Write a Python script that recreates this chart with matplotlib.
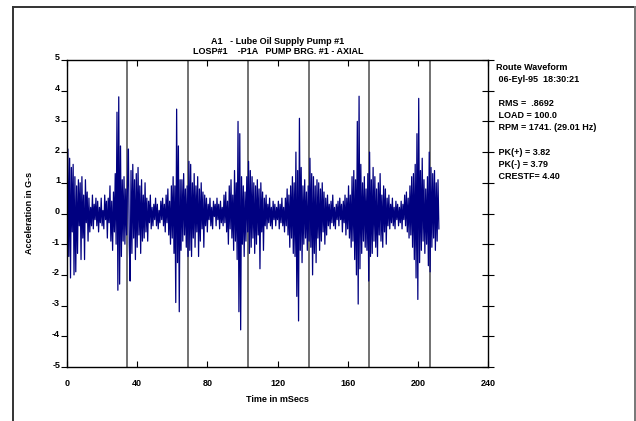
import numpy as np
import matplotlib
matplotlib.use('Agg')
from matplotlib import pyplot as plt
from matplotlib.lines import Line2D
from matplotlib.transforms import ScaledTranslation

# Section 1: the values (G-s, one every 0.5 ms)
dt_ms = 0.5
accel = [
    # 0 - 35 ms
    0.3, 2.1, -1.4, 1.8, -2.1, 1.5, -0.6, 1.6, -2.0, 1.2,
    -1.9, 0.9, -1.3, 1.1, -0.4, 1.0, -1.5, 1.2, -0.8, 0.6,
    -1.5, 1.1, -0.3, 0.7, -0.9, 0.5, -0.6, 0.2, -0.4, 0.6,
    -0.5, 0.3, -0.2, 0.5, -0.4, 0.4, -0.6, 0.2, -0.3, 0.5,
    -0.4, 0.1, -0.5, 0.6, -0.2, 0.4, -0.8, 0.5, -0.3, 0.9,
    -0.9, 0.4, -1.2, 0.7, -0.6, 1.3, -1.0, 3.3, -2.5, 3.8,
    -2.3, 2.2, -1.4, 1.1, -0.9, 1.2, -1.0, 0.8, -0.7, 1.0,
    # 35 - 70 ms
    2.1, -1.0, -2.2, 1.4, -1.3, 1.6, -0.8, 1.1, -1.5, 1.3,
    -1.1, 1.5, -0.7, 0.9, -1.3, 1.1, -0.9, 0.6, -0.8, 1.0,
    -0.6, 0.5, -0.9, 0.4, -0.3, 0.6, -0.5, 0.2, -0.4, 0.3,
    -0.2, 0.5, -0.4, 0.3, -0.5, 0.1, -0.3, 0.4, -0.2, 0.5,
    -0.4, 0.3, -0.6, 0.6, -0.3, 0.8, -0.7, 0.4, -1.0, 0.9,
    -0.8, 1.2, -1.3, 0.9, -2.9, 3.4, -1.6, 2.2, -3.2, 1.1,
    -1.2, 1.1, -0.9, 1.3, -0.7, 0.8, -1.1, 0.9, -1.4, 1.7,
    # 70 - 105 ms
    -1.2, 1.6, -1.4, 1.0, -0.8, 1.3, -1.1, 0.9, -0.6, 1.2,
    -1.4, 0.8, -0.9, 1.0, -0.5, 0.7, -1.1, 0.6, -0.4, 0.5,
    -0.6, 0.3, -0.2, 0.5, -0.4, 0.2, -0.5, 0.4, -0.1, 0.3,
    -0.4, 0.5, -0.2, 0.3, -0.5, 0.4, -0.3, 0.2, -0.4, 0.6,
    -0.3, 0.7, -0.6, 0.4, -1.0, 0.9, -0.5, 1.1, -0.8, 0.6,
    -1.2, 1.4, -0.9, 1.0, -1.5, 3.0, -3.2, 2.6, -3.79, 1.2,
    -1.0, 0.9, -1.4, 0.7, -0.9, 1.2, -0.6, 1.7, -1.3, 1.4,
    # 105 - 140 ms
    -1.1, 1.2, -0.8, 1.0, -1.3, 0.9, -1.0, 1.1, -0.7, 0.8,
    -1.8, 1.0, -0.6, 0.7, -1.2, 0.5, -0.4, 0.6, -0.5, 0.3,
    -0.3, 0.5, -0.4, 0.2, -0.5, 0.4, -0.2, 0.3, -0.4, 0.2,
    -0.2, 0.4, -0.5, 0.3, -0.3, 0.5, -0.4, 0.2, -0.6, 0.5,
    -0.4, 0.8, -0.7, 0.6, -1.1, 0.9, -0.8, 1.2, -1.3, 1.0,
    -1.4, 2.0, -2.7, 1.4, -3.5, 3.1, -1.2, 1.5, -1.6, 0.9,
    -1.0, 1.1, -0.8, 0.7, -1.2, 0.9, -0.9, 1.8, -1.1, 1.3,
    # 140 - 175 ms
    -2.0, 1.2, -1.3, 0.9, -1.6, 1.1, -0.8, 1.0, -1.2, 0.8,
    -0.9, 1.0, -0.6, 0.7, -1.0, 0.5, -0.7, 0.6, -0.4, 0.3,
    -0.5, 0.4, -0.3, 0.6, -0.4, 0.2, -0.5, 0.3, -0.2, 0.4,
    -0.4, 0.5, -0.2, 0.3, -0.6, 0.4, -0.3, 0.6, -0.7, 0.5,
    -0.5, 0.9, -0.8, 0.6, -1.1, 1.2, -0.9, 1.4, -1.5, 1.1,
    -2.0, 3.0, -2.95, 3.82, -1.8, 1.6, -1.3, 1.0, -0.9, 1.2,
    -1.1, 0.8, -1.2, 1.3, -2.2, 2.0, -1.4, 1.1, -1.3, 1.5,
    # 175 - 212 ms
    -0.9, 1.2, -1.1, 0.8, -1.4, 1.0, -0.7, 1.3, -0.9, 0.6,
    -1.1, 0.9, -0.6, 0.8, -1.0, 0.5, -0.4, 0.6, -0.5, 0.3,
    -0.3, 0.5, -0.4, 0.2, -0.5, 0.4, -0.2, 0.3, -0.4, 0.2,
    -0.3, 0.4, -0.5, 0.3, -0.2, 0.6, -0.4, 0.7, -0.6, 0.5,
    -0.8, 0.9, -0.7, 1.2, -1.1, 1.3, -1.5, 1.6, -2.1, 2.6,
    -2.8, 3.75, -1.6, 1.4, -1.2, 1.8, -0.9, 1.1, -1.3, 0.8,
    -1.0, 1.2, -1.7, 2.0, -1.9, 1.5, -1.1, 1.3, -0.8, 1.4,
    -1.2, 1.0, -0.9, 1.1, -0.5,
]
time_ms = np.arange(len(accel)) * dt_ms

# one line per shaft turn (29.01 Hz -> 34.47 ms)
rev_lines = [34.47, 68.94, 103.41, 137.88, 172.35, 206.82]

x_ticks = [0, 40, 80, 120, 160, 200, 240]
y_ticks = [-5, -4, -3, -2, -1, 0, 1, 2, 3, 4, 5]

title_lines = ['A1   - Lube Oil Supply Pump #1', 'LOSP#1    -P1A   PUMP BRG. #1 - AXIAL']
info_lines = ['Route Waveform', ' 06-Eyl-95  18:30:21', '', ' RMS =  .8692', ' LOAD = 100.0',
              ' RPM = 1741. (29.01 Hz)', '', ' PK(+) = 3.82', ' PK(-) = 3.79', ' CRESTF= 4.40']

# Section 2: the figure
plt.rcParams['font.family'] = ['Liberation Sans', 'DejaVu Sans']
plt.rcParams['font.weight'] = 'bold'
plt.rcParams['axes.unicode_minus'] = False
fs = 6.5

fig = plt.figure(figsize=(6.36, 4.21), dpi=100)
ax = fig.add_axes([67 / 636, 1 - 367 / 421, 421 / 636, 307 / 421])

for xl in rev_lines:
    ax.axvline(xl, color='#4a4a4a', lw=1.1, zorder=1)
ax.plot(time_ms, accel, color='#000080', lw=0.9, zorder=2)

ax.set_xlim(0, 240)
ax.set_ylim(-5, 5)
ax.set_xticks(x_ticks)
ax.set_yticks(y_ticks)
ax.tick_params(axis='x', direction='in', length=4, top=True, pad=9, labelsize=fs)
ax.tick_params(axis='y', direction='out', length=4, pad=1, labelsize=fs)
ax.tick_params(axis='y', which='both', right=True)
for t in ax.yaxis.get_major_ticks():
    t.tick2line.set_markersize(8)
    t.tick2line.set_marker('_')
# y labels sit a little above their ticks in the original
for lab in ax.get_yticklabels():
    lab.set_transform(lab.get_transform() + ScaledTranslation(0, 3 / 100, fig.dpi_scale_trans))
for s in ax.spines.values():
    s.set_linewidth(1.0)

fig.text(30 / 636, 1 - 213 / 421, 'Acceleration in G-s', rotation=90,
         ha='center', va='center', fontsize=fs, fontweight='bold')
fig.text(277 / 636, 1 - 399 / 421, 'Time in mSecs', ha='center', va='center',
         fontsize=fs, fontweight='bold')
fig.text(278 / 636, 1 - 41 / 421, title_lines[0], ha='center', va='center', fontsize=fs, fontweight='bold')
fig.text(278 / 636, 1 - 52 / 421, title_lines[1], ha='center', va='center', fontsize=fs, fontweight='bold')

y0 = 67
for i, line in enumerate(info_lines):
    fig.text(496 / 636, 1 - (y0 + i * 12.2) / 421, line, ha='left', va='center',
             fontsize=fs, fontweight='bold')

# outer frame (runs off the bottom edge)
frame_kw = dict(transform=fig.transFigure, color='#333333', lw=1.4)
fig.add_artist(Line2D([13 / 636, 13 / 636], [-0.1, 1 - 7 / 421], **frame_kw))
fig.add_artist(Line2D([13 / 636, 635 / 636], [1 - 7 / 421, 1 - 7 / 421], **frame_kw))
fig.add_artist(Line2D([635 / 636, 635 / 636], [-0.1, 1 - 7 / 421], color='#777777', lw=1.4,
                      transform=fig.transFigure))

fig.savefig('out.png', dpi=100)
